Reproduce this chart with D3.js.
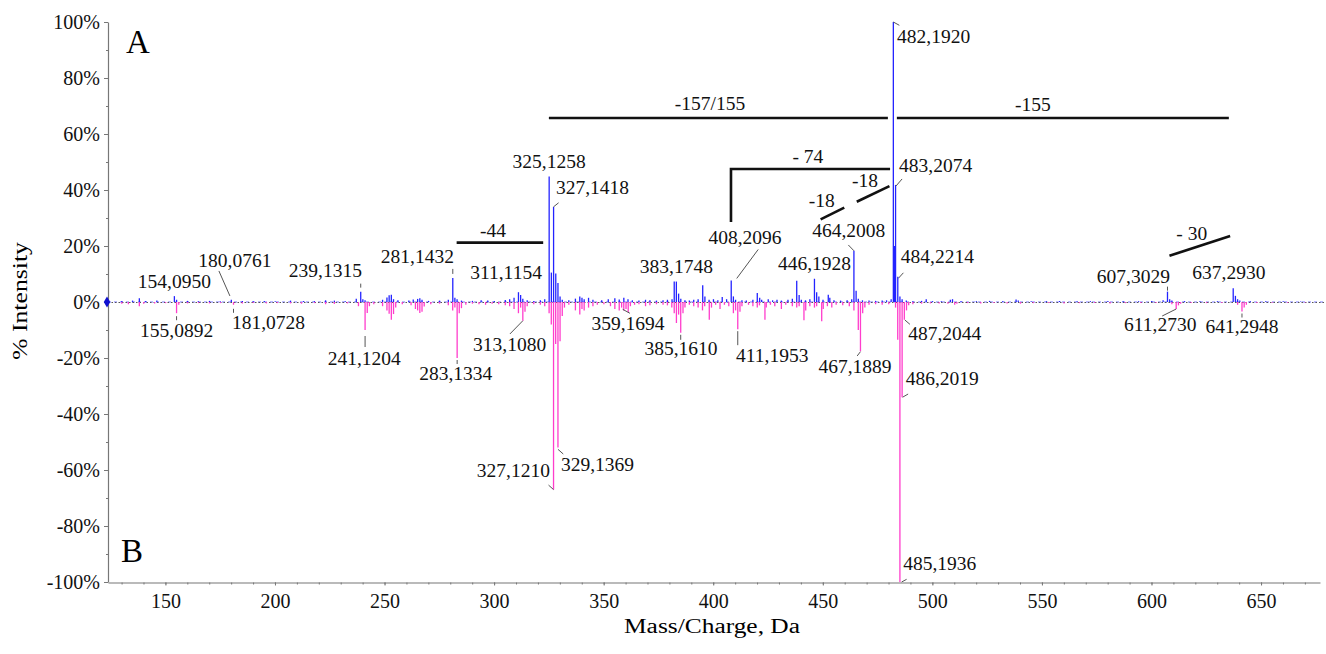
<!DOCTYPE html>
<html>
<head>
<meta charset="utf-8">
<script src="https://cdn.jsdelivr.net/npm/d3@7"></script>
<style>
  body { margin: 0; background: #fff; }
  text { font-family: "Liberation Serif", "Times New Roman", serif; }
</style>
</head>
<body>
<div id="root"></div>
<script>
// spectrum A (upward, blue): [m/z, % intensity]
var peaksA = [
  [130.1,0.4],[135.0,0.5],[138.1,1.3],[141.0,0.4],[146.1,0.5],[154.095,2.1],[155.1,0.8],[160.1,0.4],[165.0,0.3],
  [170.1,0.4],[175.0,0.3],[180.076,0.8],[185.1,0.4],[190.1,0.3],[195.1,0.4],[200.1,0.3],[207.1,0.5],[213.1,0.4],
  [218.0,0.3],[223.1,0.6],[227.1,0.5],[232.1,0.3],[237.1,1.2],[239.1315,3.7],[240.1,1.0],[241.1,0.6],[249.1,0.8],
  [251.1,1.6],[252.1,2.4],[253.1,2.6],[254.1,1.0],[256.1,0.6],[261.1,0.5],[263.1,0.9],[265.1,1.1],[266.1,1.3],
  [267.1,0.8],[270.1,0.4],[275.1,0.5],[279.1,0.8],[281.1432,8.6],[282.1,1.5],[283.1,1.0],[285.1,0.5],[290.1,0.4],
  [294.1,0.6],[297.1,0.5],[300.1,0.4],[305.1,0.7],[307.1,1.0],[309.1,1.5],[311.1154,3.5],[312.1,2.5],[313.1,1.2],
  [315.1,0.6],[318.1,0.4],[321.1,0.6],[323.1,1.0],[325.1258,44.8],[326.13,10.5],[327.1418,34],[328.14,10.2],
  [329.14,6.8],[330.1,2.0],[331.1,0.8],[334.1,0.6],[337.1,1.2],[339.1,2.0],[340.1,1.5],[341.1,1.0],[343.1,1.5],
  [345.1,0.8],[349.1,0.6],[352.1,1.0],[355.1,1.3],[357.1,0.9],[359.2,1.5],[361.1,1.0],[363.1,0.6],[366.1,0.5],
  [369.1,0.8],[371.1,0.6],[374.1,0.5],[377.1,0.6],[379.1,0.8],[381.2,1.0],[382.2,7.3],[383.1748,7.3],[384.2,3.0],
  [385.2,1.2],[387.1,0.6],[389.1,0.5],[391.1,0.8],[393.1,1.0],[395.2,6.0],[396.2,2.0],[398.1,0.8],[400.1,1.0],
  [402.1,0.6],[404.1,1.8],[406.1,1.0],[408.2096,7.7],[409.2,2.0],[410.2,0.8],[413.1,0.6],[415.1,0.5],[418.1,0.8],
  [420.1,3.2],[421.2,1.5],[422.1,0.8],[425.1,1.0],[427.1,0.6],[429.1,0.8],[431.1,0.5],[434.1,0.8],[436.1,1.2],
  [438.1,7.6],[439.2,2.5],[440.2,0.8],[442.1,0.6],[444.1,1.0],[446.1928,8.3],[447.2,3.5],[448.2,2.0],[450.1,0.8],
  [452.5,2.6],[453.2,1.5],[455.1,0.6],[458.1,0.5],[461.1,0.6],[463.2,1.0],[464.2008,18.3],[465.2,4.0],[466.2,1.2],
  [468.1,0.6],[471.1,0.5],[474.1,0.4],[477.1,0.5],[479.1,0.6],[481.2,1.0],[482.192,100],[482.7,20],[483.2074,41.8],
  [484.2214,9],[485.2,2.0],[486.2,1.0],[488.1,0.5],[491.1,0.3],[495.1,0.4],[497.2,1.0],[500.1,0.3],[504.1,0.3],
  [508.2,0.8],[509.2,1.0],[513.1,0.3],[520.1,0.3],[526.1,0.4],[532.1,0.3],[538.2,0.9],[539.2,0.5],[545.1,0.3],
  [552.1,0.3],[558.1,0.4],[566.1,0.3],[572.1,0.3],[580.1,0.4],[587.1,0.3],[594.1,0.3],[600.1,0.4],[605.3,0.6],
  [607.3029,3.7],[608.3,1.0],[609.3,0.5],[615.1,0.3],[622.1,0.3],[630.1,0.3],[637.293,4.9],[638.3,2.2],[639.3,1.0],
  [640.3,0.5],[645.1,0.3],[652.1,0.3],[660.1,0.3],[668.1,0.2]
];

// spectrum B (downward, pink): [m/z, % intensity]
var peaksB = [
  [130.1,0.6],[133.1,0.8],[138.1,1.5],[140.1,0.6],[145.1,0.5],[150.1,0.4],[155.0892,4.0],[156.1,1.0],[160.1,0.5],
  [165.1,0.4],[170.1,0.5],[175.1,0.4],[181.0728,1.0],[185.1,0.5],[190.1,0.4],[196.1,0.5],[201.1,0.4],[207.1,0.5],
  [212.1,0.6],[218.1,0.4],[223.1,0.8],[227.1,0.7],[233.1,0.5],[238.1,1.5],[241.1204,10.0],[242.1,3.9],[243.1,1.5],
  [245.1,0.8],[249.1,1.5],[251.1,3.0],[252.1,4.2],[253.1,6.3],[254.1,4.3],[255.1,2.0],[258.1,0.8],[262.1,1.2],
  [264.1,2.5],[265.1,3.0],[266.1,3.9],[267.1,3.5],[268.1,1.6],[271.1,0.8],[275.1,0.6],[279.1,1.2],[281.1,3.0],
  [282.1,2.0],[283.1334,20.0],[284.1,4.0],[285.1,2.2],[287.1,1.0],[290.1,0.6],[293.1,0.8],[296.1,1.0],[299.1,0.6],
  [302.1,0.8],[305.1,1.2],[307.1,1.5],[309.1,2.5],[311.1,4.0],[312.1,2.0],[313.108,6.7],[314.1,3.5],[315.1,1.5],
  [318.1,0.8],[321.1,1.0],[323.1,1.5],[325.1,4.0],[326.1,8.0],[327.121,67],[328.1,15],[329.1369,52],[330.1,14],
  [331.1,5],[332.1,2],[334.1,1.0],[337.1,3.0],[339.1,4.5],[340.1,2.5],[341.1,3.0],[343.1,2.0],[345.1,1.5],
  [347.1,1.0],[350.1,0.8],[353.1,1.5],[355.1,2.5],[357.1,3.0],[358.2,2.0],[359.1694,3.0],[360.2,2.5],[361.2,3.7],
  [362.2,1.5],[364.1,1.0],[366.1,0.8],[369.1,1.5],[371.1,1.2],[374.1,0.8],[377.1,1.0],[379.1,1.2],[381.1,2.0],
  [382.2,4.0],[383.2,7.5],[384.2,4.5],[385.161,11],[386.2,4.0],[387.1,2.0],[389.1,1.0],[391.1,1.5],[393.1,2.0],
  [395.1,3.0],[396.1,1.5],[398.2,6.3],[399.2,2.0],[401.1,1.0],[403.1,2.5],[405.1,1.0],[407.1,1.5],[409.2,4.0],
  [410.2,3.0],[411.1953,9.7],[412.2,3.5],[413.1,1.5],[416.1,1.0],[418.1,1.5],[420.1,2.0],[421.1,1.2],[423.6,6.3],
  [424.2,2.0],[426.1,1.0],[428.1,1.5],[431.1,2.5],[433.1,1.0],[436.1,1.5],[438.1,2.0],[439.2,1.5],[441.4,6.5],
  [442.2,3.0],[444.1,1.5],[446.2,2.0],[447.2,1.5],[449.5,6.9],[450.2,2.5],[452.1,1.5],[454.1,2.0],[456.1,1.0],
  [459.1,1.2],[462.1,1.5],[464.2,3.0],[466.2,10.0],[467.1889,17.6],[468.2,4.0],[469.2,2.0],[471.1,1.0],[474.1,0.8],
  [477.1,1.0],[480.1,0.8],[483.2,2.0],[484.2,13.5],[485.1936,100],[486.2019,34],[487.2044,6.3],[488.2,3.0],
  [489.2,1.2],[491.1,0.8],[495.1,0.6],[499.1,0.5],[503.1,0.5],[507.1,0.6],[510.2,1.0],[511.2,0.6],[516.1,0.4],
  [522.1,0.5],[528.1,0.4],[534.1,0.5],[540.2,0.6],[546.1,0.4],[553.1,0.4],[560.1,0.5],[567.1,0.4],[574.1,0.4],
  [581.1,0.5],[588.1,0.4],[595.1,0.4],[602.1,0.4],[609.3,0.8],[611.273,2.5],[612.3,1.2],[613.3,0.6],[618.1,0.4],
  [625.1,0.4],[632.1,0.4],[639.3,1.0],[641.2948,3.4],[642.3,2.0],[643.3,1.0],[648.1,0.4],[655.1,0.3],[662.1,0.3],
  [670.1,0.2]
];

// labelled peaks (negative intensity = spectrum B)
var labelText = ["154,0950","180,0761","239,1315","281,1432","311,1154","325,1258","327,1418","383,1748",
  "408,2096","446,1928","464,2008","482,1920","483,2074","484,2214","607,3029","637,2930",
  "155,0892","181,0728","241,1204","283,1334","313,1080","327,1210","329,1369","359,1694",
  "385,1610","411,1953","467,1889","487,2044","486,2019","485,1936","611,2730","641,2948"];
var labelMz = [154.095,180.076,239.1315,281.1432,311.1154,325.1258,327.1418,383.1748,
  408.2096,446.1928,464.2008,482.192,483.2074,484.2214,607.3029,637.293,
  155.0892,181.0728,241.1204,283.1334,313.108,327.121,329.1369,359.1694,
  385.161,411.1953,467.1889,487.2044,486.2019,485.1936,611.273,641.2948];
var labelInt = [2.1,0.8,3.7,8.6,3.5,44.8,34,7.3,7.7,8.3,18.3,100,41.8,9,3.7,4.9,
  -4,-1,-10,-20,-6.7,-67,-52,-3,-11,-9.7,-17.6,-6.3,-34,-100,-2.5,-3.4];

// neutral-loss annotations: text, polyline [m/z, %], label position [m/z, %]
var lossText = ["-157/155","-155","- 74","-18","-18","-44","- 30"];
var lossPath = [
  [[325.0,65.7],[479.7,65.7]],
  [[483.8,65.7],[635.3,65.7]],
  [[408.1,28.6],[408.1,47.5],[480.7,47.5]],
  [[465.5,35.8],[480.4,41.4]],
  [[449.0,29.5],[459.8,33.7]],
  [[282.9,21.2],[322.4,21.2]],
  [[608.2,16.5],[635.9,23.6]]
];
var lossLabelAt = [[398.5,68.6],[545.9,68.2],[443.2,49.6],[469.3,41.0],[449.5,33.8],[299.5,23.3],[618.4,22.1]];

var xTicks = [150,200,250,300,350,400,450,500,550,600,650];
var yTicks = [-100,-80,-60,-40,-20,0,20,40,60,80,100];

// label placement relative to the peak tip: dx, dy, anchor, leader [x1,y1,x2,y2]
var labelPlace = [
  [0,-8,"middle",null],[3.6,-33,"middle",[-12.4,-28.8,-1.4,-3.8]],[1.2,-15,"end",[0,-4,0,-8]],
  [1.2,-15,"end",[0,-4,0,-9]],[-12.4,-13.7,"middle",null],[0,-8.3,"middle",null],
  [2.4,-12.5,"start",[0,0,5,-4]],[0,-9,"middle",null],[13.8,-36.4,"middle",[5.5,-2,27,-31]],
  [0,-8.8,"middle",null],[-5.2,-14,"middle",[0,0,-5.6,-5.8]],[3.7,21,"start",[0,0,6,3.3]],
  [3.5,-13,"start",[0.5,1,6.5,-6]],[3,-13.5,"start",[0.6,1.5,5.6,-4]],[2.4,-8.6,"end",[0,-1,0,-5]],
  [-4.3,-9,"middle",null],
  [0,23.5,"middle",[0,3,0,7]],[-1.6,24.2,"start",[0,4,0,8]],[-0.8,35,"middle",[0,6,0,17]],
  [-1.4,22,"middle",[0,2,0,6]],[-13.2,30,"middle",[0,0,-12.9,13.2]],[-3.6,-12.6,"end",[0,0,-5,-4.5]],
  [3,23.4,"start",[0,1.7,5.3,6.4]],[4.2,19.6,"middle",[-1.1,-1.1,6.2,2.9]],[0.3,22.2,"middle",[0,2,0,7]],
  [-1.7,32.5,"start",[0,2,0,16]],[-5.5,22,"middle",[0,0.4,-3.3,4.7]],[3.9,20.4,"start",[0.6,0.4,5.6,4.7]],
  [3.5,-12.2,"start",[0.5,0,6,-3.2]],[3.3,-12,"start",[1.7,0,6.7,-2.7]],[-16,22,"middle",[0,0,-14,7]],
  [0,21.5,"middle",[0,2,0,6]]
];

var W = 1326, H = 654;
var blue = "#2323ff", pink = "#ff3dcc";

var svg = d3.select("#root").append("svg")
  .attr("width", W).attr("height", H)
  .style("display", "block");

var x = d3.scaleLinear().domain([123.8, 676.9]).range([108, 1320]);
var y = d3.scaleLinear().domain([-100, 100]).range([582, 22]);

// zero line
svg.append("line")
  .attr("x1", x.range()[0]).attr("x2", W)
  .attr("y1", y(0)).attr("y2", y(0))
  .attr("stroke", blue).attr("stroke-width", 1).attr("stroke-dasharray", "3,3").attr("opacity", 0.6);
svg.append("line")
  .attr("x1", x.range()[0]).attr("x2", W)
  .attr("y1", y(0) + 0.5).attr("y2", y(0) + 0.5)
  .attr("stroke", "#555").attr("stroke-width", 1).attr("stroke-dasharray", "1.5,2");

// peaks
svg.append("g").selectAll("line").data(peaksB).enter().append("line")
  .attr("x1", d => x(d[0])).attr("x2", d => x(d[0]))
  .attr("y1", y(0)).attr("y2", d => y(-d[1]))
  .attr("stroke", pink).attr("stroke-width", 1.3);

svg.append("g").selectAll("line").data(peaksA).enter().append("line")
  .attr("x1", d => x(d[0])).attr("x2", d => x(d[0]))
  .attr("y1", y(0)).attr("y2", d => y(d[1]))
  .attr("stroke", blue).attr("stroke-width", 1.3);

// axes
var yAxis = svg.append("g")
  .attr("transform", "translate(" + x.range()[0] + ",0)")
  .call(d3.axisLeft(y).tickValues(yTicks).tickFormat(d => d + "%").tickSize(4).tickPadding(4).tickSizeOuter(0));
svg.append("g")
  .attr("transform", "translate(" + x.range()[0] + ",0)")
  .call(d3.axisLeft(y).tickValues(d3.range(-90, 100, 20)).tickFormat("").tickSize(2).tickSizeOuter(0))
  .select(".domain").remove();

var xAxis = svg.append("g")
  .attr("transform", "translate(0," + (y(-100) + 0.5) + ")")
  .call(d3.axisBottom(x).tickValues(xTicks).tickSize(3).tickPadding(8).tickSizeOuter(0));
svg.append("g")
  .attr("transform", "translate(0," + (y(-100) + 0.5) + ")")
  .call(d3.axisBottom(x).tickValues(d3.range(130, 677, 10)).tickFormat("").tickSize(2).tickSizeOuter(0))
  .select(".domain").remove();

svg.selectAll(".domain").attr("stroke", "#777").attr("stroke-width", 1.2);
svg.selectAll(".tick line").attr("stroke", "#777");
svg.selectAll(".tick text")
  .attr("font-family", "'Liberation Serif', 'Times New Roman', serif")
  .attr("font-size", 20).attr("fill", "#111");

// marker at origin
svg.append("path")
  .attr("d", d3.symbol(d3.symbolDiamond).size(36)())
  .attr("transform", "translate(" + (x.range()[0] - 1) + "," + y(0) + ")")
  .attr("fill", "#1010d0");

// axis titles
svg.append("text")
  .attr("x", 712).attr("y", 633)
  .attr("text-anchor", "middle").attr("font-size", 20)
  .attr("textLength", 176).attr("lengthAdjust", "spacingAndGlyphs")
  .text("Mass/Charge, Da");
svg.append("text")
  .attr("transform", "translate(27,301) rotate(-90)")
  .attr("text-anchor", "middle").attr("font-size", 21)
  .attr("textLength", 118).attr("lengthAdjust", "spacingAndGlyphs")
  .text("% Intensity");

// panel letters
svg.append("text").attr("x", 126).attr("y", 53).attr("font-size", 33).text("A");
svg.append("text").attr("x", 121).attr("y", 562).attr("font-size", 33).text("B");

// neutral-loss annotations
var line = d3.line().x(d => x(d[0])).y(d => y(d[1]));
svg.append("g").selectAll("path").data(lossPath).enter().append("path")
  .attr("d", line).attr("fill", "none").attr("stroke", "#111").attr("stroke-width", 2.6);
svg.append("g").selectAll("text").data(lossText).enter().append("text")
  .attr("x", (d, i) => x(lossLabelAt[i][0])).attr("y", (d, i) => y(lossLabelAt[i][1]))
  .attr("text-anchor", "middle").attr("font-size", 19.5).attr("fill", "#111")
  .text(d => d);

// peak labels and leaders
var lab = svg.append("g");
labelText.forEach(function (t, i) {
  var px = x(labelMz[i]), py = y(labelInt[i]), p = labelPlace[i];
  if (p[3]) {
    lab.append("line")
      .attr("x1", px + p[3][0]).attr("y1", py + p[3][1])
      .attr("x2", px + p[3][2]).attr("y2", py + p[3][3])
      .attr("stroke", "#555").attr("stroke-width", 1);
  }
  lab.append("text")
    .attr("x", px + p[0]).attr("y", py + p[1])
    .attr("text-anchor", p[2]).attr("font-size", 19.5).attr("fill", "#111")
    .text(t);
});
</script>
</body>
</html>
